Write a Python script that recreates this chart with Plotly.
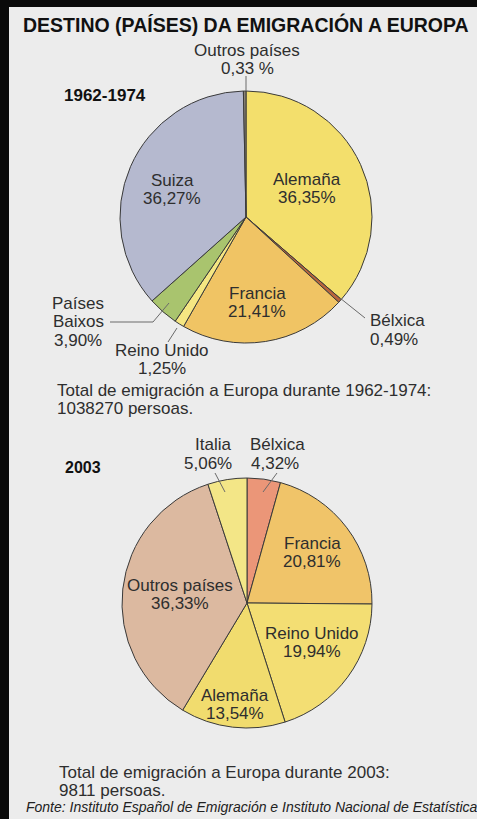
import plotly.graph_objects as go

# ---------------- data ----------------
labels_1974 = ["Alemaña", "Bélxica", "Francia", "Reino Unido", "Países Baixos", "Suiza", "Outros países"]
values_1974 = [36.35, 0.49, 21.41, 1.25, 3.90, 36.27, 0.33]
colors_1974 = ["#f3df6c", "#b8643c", "#f0c464", "#f5e682", "#a9c46e", "#b5b9cf", "#8c8474"]

labels_2003 = ["Bélxica", "Francia", "Reino Unido", "Alemaña", "Outros países", "Italia"]
values_2003 = [4.32, 20.81, 19.94, 13.54, 36.33, 5.06]
colors_2003 = ["#eb9678", "#f0c469", "#f3de73", "#f1dc6e", "#dcb9a0", "#f3e687"]

title_text = "DESTINO (PAÍSES) DA EMIGRACIÓN A EUROPA"
period_1 = "1962-1974"
period_2 = "2003"
total_1 = ["Total de emigración a Europa durante 1962-1974:", "1038270 persoas."]
total_2 = ["Total de emigración a Europa durante 2003:", "9811 persoas."]
source_text = "Fonte: Instituto Español de Emigración e Instituto Nacional de Estatística"

W, H = 477, 819
FONT = "Liberation Sans, Arial, Helvetica, sans-serif"


def fmt(v):
    return f"{v:.2f}".replace(".", ",") + "%"


def px(x):
    return x / W


def py(y):
    return 1 - y / H


def pie_domain(cx, cy, r):
    return dict(x=[px(cx - r), px(cx + r)], y=[py(cy + r), py(cy - r)])


fig = go.Figure()

fig.add_trace(go.Pie(
    labels=labels_1974, values=values_1974, sort=False, direction="clockwise",
    rotation=0, textinfo="none", hoverinfo="label+percent",
    marker=dict(colors=colors_1974, line=dict(color="#3a3a3a", width=1)),
    domain=pie_domain(246, 217, 126), showlegend=False,
))
fig.add_trace(go.Pie(
    labels=labels_2003, values=values_2003, sort=False, direction="clockwise",
    rotation=0, textinfo="none", hoverinfo="label+percent",
    marker=dict(colors=colors_2003, line=dict(color="#3a3a3a", width=1)),
    domain=pie_domain(247, 603, 125), showlegend=False,
))

annotations = []


def text(x, y, s, size=17, color="#2e2e2e", anchor="center", bold=False, italic=False):
    if bold:
        s = f"<b>{s}</b>"
    if italic:
        s = f"<i>{s}</i>"
    annotations.append(dict(
        x=px(x), y=py(y), xref="paper", yref="paper", text=s, showarrow=False,
        xanchor=anchor, yanchor="middle", font=dict(family=FONT, size=size, color=color),
    ))


def label(x, y, lines, step=18, **kw):
    for i, ln in enumerate(lines):
        text(x, y + i * step, ln, **kw)


v1 = dict(zip(labels_1974, values_1974))
v2 = dict(zip(labels_2003, values_2003))

# title
text(246, 24, title_text, size=19.5, color="#111111", bold=True)

# pie 1 labels
label(247, 50, ["Outros países", fmt(v1["Outros países"]).replace("%", " %")])
text(105, 95, period_1, size=17, color="#111111", bold=True)
label(172, 180, ["Suiza", fmt(v1["Suiza"])])
label(307, 179, ["Alemaña", fmt(v1["Alemaña"])])
label(257, 293, ["Francia", fmt(v1["Francia"])])
label(368, 321, ["Bélxica", fmt(v1["Bélxica"])], anchor="left")
label(78, 303, ["Países", "Baixos", fmt(v1["Países Baixos"])], step=18.5)
label(162, 350, ["Reino Unido", fmt(v1["Reino Unido"])], step=18.5)
label(55, 390, total_1, step=18, anchor="left")

# pie 2 labels
text(83, 467, period_2, size=16, color="#111111", bold=True)
label(213, 445, ["Italia"])
label(208, 463, [fmt(v2["Italia"])])
label(277, 445, ["Bélxica"])
label(275, 463, [fmt(v2["Bélxica"])])
label(312, 543, ["Francia", fmt(v2["Francia"])])
label(180, 585, ["Outros países", fmt(v2["Outros países"])])
label(312, 633, ["Reino Unido", fmt(v2["Reino Unido"])])
label(235, 695, ["Alemaña", fmt(v2["Alemaña"])])
label(57, 772, total_2, step=18, anchor="left")
text(24, 807, source_text, size=14, color="#222222", anchor="left", italic=True)

# leader lines and frame
LINE = dict(color="#6a6a6a", width=1)
shapes = []


def seg(x0, y0, x1, y1):
    shapes.append(dict(type="line", xref="paper", yref="paper",
                       x0=px(x0), y0=py(y0), x1=px(x1), y1=py(y1), line=LINE))


seg(246, 76, 246, 91)
seg(340, 298, 365, 318)
seg(110, 322, 153, 322)
seg(153, 322, 169, 303)
seg(168, 342, 177, 328)
seg(215, 473, 225, 492)
seg(277, 473, 263, 492)

shapes.append(dict(type="rect", xref="paper", yref="paper", x0=0, x1=px(9), y0=0, y1=1,
                   fillcolor="#0a0a0a", line=dict(width=0), layer="above"))
shapes.append(dict(type="rect", xref="paper", yref="paper", x0=0, x1=1, y0=py(7), y1=1,
                   fillcolor="#0a0a0a", line=dict(width=0), layer="above"))

fig.update_layout(
    width=W, height=H, margin=dict(l=0, r=0, t=0, b=0),
    paper_bgcolor="#ececec", plot_bgcolor="#ececec",
    annotations=annotations, shapes=shapes, showlegend=False,
)

fig.write_html(
    "out.html",
    config={"displayModeBar": False},
    post_script="document.body.style.margin='0';document.body.style.overflow='hidden';",
)
